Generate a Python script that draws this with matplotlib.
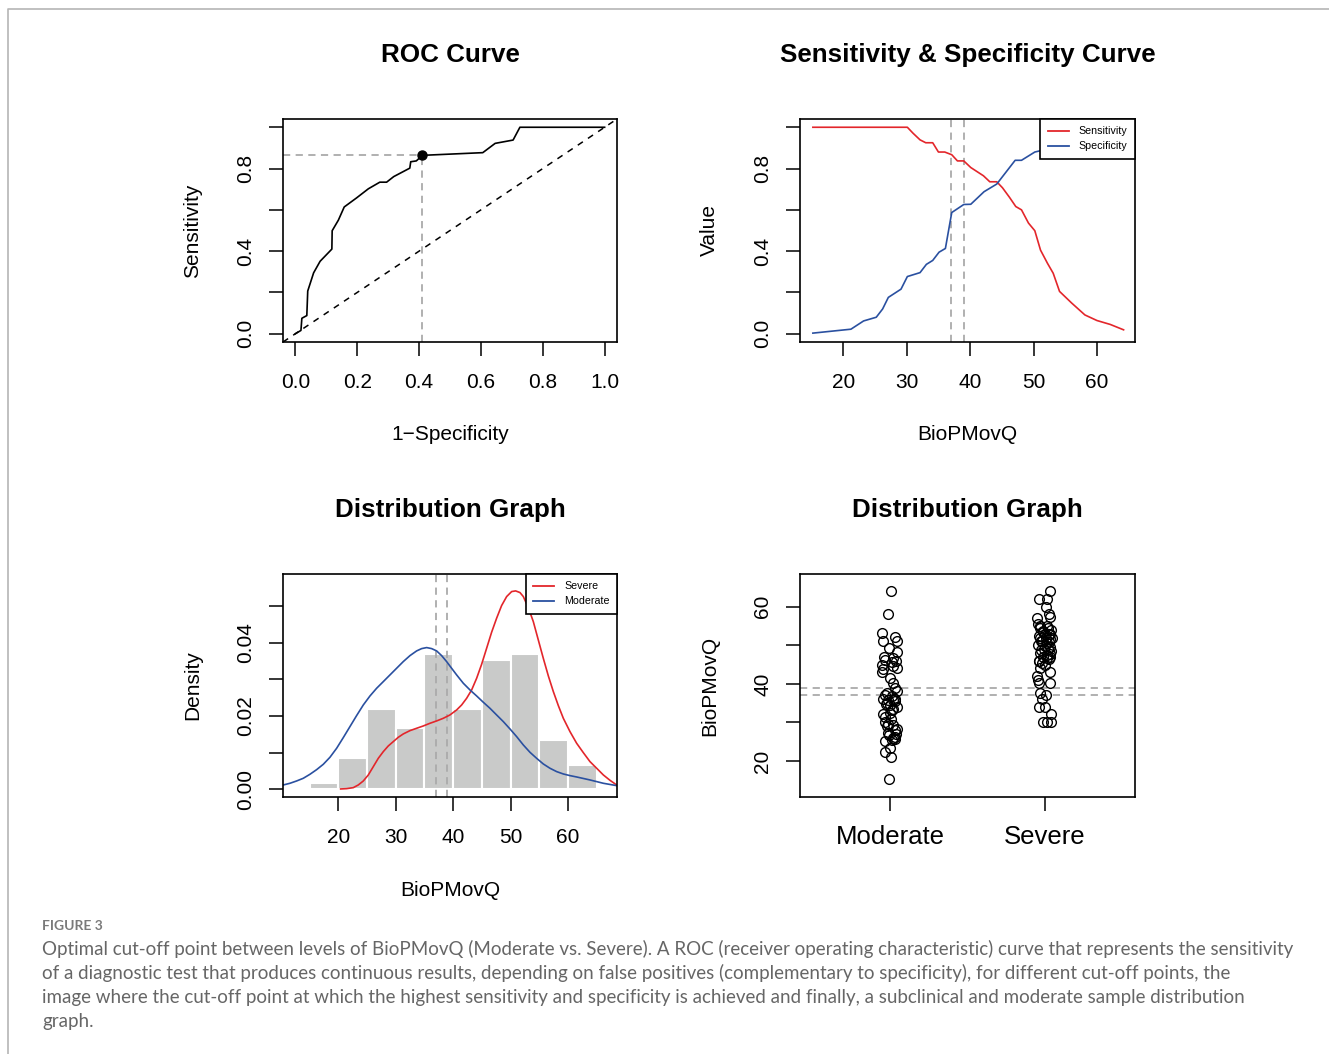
import matplotlib
matplotlib.use('Agg')
import matplotlib.pyplot as plt
import numpy as np
from matplotlib.lines import Line2D

plt.rcParams['font.family'] = ['Liberation Sans', 'DejaVu Sans']

# ---------------- data ----------------
roc_fpr = [0.0, 0.018, 0.021, 0.037, 0.040, 0.059, 0.080, 0.118, 0.119, 0.139, 0.158,
           0.198, 0.236, 0.273, 0.295, 0.318, 0.370, 0.373, 0.391, 0.411, 0.606, 0.646,
           0.704, 0.726, 1.0]
roc_tpr = [0.0, 0.016, 0.075, 0.088, 0.207, 0.295, 0.351, 0.410, 0.499, 0.550, 0.614,
           0.658, 0.702, 0.734, 0.734, 0.761, 0.802, 0.833, 0.837, 0.864, 0.877, 0.922,
           0.938, 1.0, 1.0]
best_fpr, best_tpr = 0.411, 0.864

sens_x = [15.2, 30.1, 31.0, 32.1, 33.0, 34.1, 35.0, 36.0, 37.1, 38.0, 39.0, 40.1, 42.1,
          43.1, 44.2, 45.1, 46.2, 47.2, 48.1, 49.2, 50.2, 51.1, 52.2, 53.1, 54.1, 56.0,
          58.1, 60.0, 62.1, 64.2]
sens_y = [1.0, 1.0, 0.971, 0.939, 0.925, 0.925, 0.880, 0.880, 0.867, 0.837, 0.837, 0.805,
          0.765, 0.736, 0.736, 0.707, 0.661, 0.616, 0.600, 0.536, 0.499, 0.405, 0.341,
          0.293, 0.205, 0.149, 0.091, 0.064, 0.045, 0.019]
spec_x = [15.2, 21.2, 23.2, 25.2, 26.2, 27.1, 29.1, 30.1, 32.1, 33.1, 34.1, 35.1, 36.1,
          37.1, 39.0, 40.1, 42.2, 44.2, 47.1, 48.1, 50.2, 51.3, 54.0, 57.0, 60.0, 64.2]
spec_y = [0.003, 0.022, 0.062, 0.080, 0.120, 0.176, 0.216, 0.277, 0.296, 0.336, 0.355,
          0.395, 0.413, 0.587, 0.626, 0.627, 0.688, 0.725, 0.840, 0.840, 0.880, 0.888,
          0.93, 0.96, 0.98, 1.0]
cutoffs = [37, 39]

hist_left = [15, 20, 25, 30, 35, 40, 45, 50, 55, 60]
hist_counts = [1, 5, 13, 10, 22, 13, 21, 22, 8, 4]
bin_width = 5

mod_dx = [10.42, 11.58, 12.74, 13.90, 15.06, 16.23, 17.39, 18.55, 19.71, 20.87, 22.03,
          23.19, 24.36, 25.52, 26.68, 27.84, 29.00, 30.16, 31.32, 32.49, 33.65, 34.52,
          35.39, 36.26, 37.13, 38.00, 38.87, 39.74, 40.62, 41.78, 42.94, 44.10, 45.26,
          46.42, 47.58, 48.75, 49.91, 51.07, 52.23, 53.39, 54.55, 55.71, 56.88, 58.04,
          59.20, 60.36, 61.52, 63.84, 66.17, 68.49]
mod_dy = [0.00118, 0.00164, 0.00227, 0.0030, 0.00409, 0.00536, 0.00682, 0.00873, 0.01118,
          0.01409, 0.01709, 0.02009, 0.0230, 0.02545, 0.02755, 0.02936, 0.03118, 0.0330,
          0.03482, 0.03645, 0.03773, 0.03836, 0.03864, 0.03836, 0.03773, 0.03645, 0.03482,
          0.0330, 0.03118, 0.02891, 0.02709, 0.02545, 0.02373, 0.02209, 0.02027, 0.01845,
          0.01645, 0.01436, 0.01209, 0.01009, 0.00845, 0.00691, 0.00573, 0.00482, 0.00418,
          0.00373, 0.00336, 0.00255, 0.00164, 0.001]
sev_dx = [20.41, 21.45, 22.61, 23.48, 24.36, 25.23, 26.10, 26.97, 27.84, 28.71, 29.58,
          30.45, 31.32, 32.49, 33.65, 34.81, 35.97, 37.13, 38.29, 39.45, 40.62, 41.49,
          42.36, 43.23, 44.10, 44.97, 45.84, 46.71, 47.58, 48.45, 49.33, 50.20, 50.89,
          51.65, 52.23, 53.10, 53.97, 54.84, 55.71, 56.59, 57.46, 58.33, 59.20, 60.36,
          61.52, 62.68, 63.84, 65.01, 66.17, 67.33, 68.49]
sev_dy = [0.00009, 0.00018, 0.00045, 0.00118, 0.00227, 0.00391, 0.00618, 0.00845, 0.01027,
          0.01182, 0.0130, 0.01418, 0.01509, 0.016, 0.01664, 0.01727, 0.018, 0.01864,
          0.01936, 0.02027, 0.02164, 0.0230, 0.02482, 0.02709, 0.03027, 0.03409, 0.03845,
          0.04282, 0.04664, 0.05009, 0.05255, 0.05391, 0.05409, 0.05364, 0.05255, 0.04955,
          0.04573, 0.04073, 0.03573, 0.03091, 0.02664, 0.02282, 0.01936, 0.01573, 0.01255,
          0.01, 0.00755, 0.00573, 0.00391, 0.00245, 0.00118]

groups = ['Moderate', 'Severe']
mod_vals = [64.0, 58.0, 53.1, 52.2, 51.1, 51.1, 49.2, 48.2, 46.6, 46.1, 45.7, 44.1, 43.8,
            43.1, 41.4, 40.1, 38.1, 37.1, 36.2, 35.8, 35.8, 34.5, 33.6, 32.1, 32.4, 29.5,
            29.3, 28.3, 27.2, 26.3, 25.2, 25.4, 23.5, 22.3, 21.1, 15.3, 36.0, 35.0, 34.0,
            30.0, 27.0, 26.0, 46.0, 45.0,
            37.5, 36.8, 35.5, 34.8, 33.2, 30.8, 29.0, 28.0, 26.8, 25.8, 44.5, 47.0, 39.0,
            31.5]
mod_jit = [0.006, -0.015, -0.054, 0.032, -0.043, 0.043, -0.004, 0.043, 0.021, -0.032,
           0.011, 0.047, -0.043, -0.054, 0.0, 0.021, 0.043, -0.032, -0.043, -0.011, 0.021,
           0.0, 0.021, -0.043, 0.0, -0.011, 0.021, 0.047, -0.011, 0.032, -0.032, 0.011,
           0.0, -0.032, 0.006, -0.004, 0.030, -0.020, 0.045, -0.030, 0.040, 0.020,
           0.040, -0.050,
           -0.020, 0.015, 0.030, -0.025, 0.012, 0.005, -0.020, 0.035, -0.005, 0.030,
           0.020, -0.040, 0.030, -0.035]
sev_vals = [64.0, 62.1, 62.1, 60.0, 58.0, 57.4, 57.1, 55.6, 55.0, 54.5, 54.0, 53.5, 53.0,
            52.5, 52.0, 51.5, 51.0, 50.5, 50.0, 49.5, 49.0, 48.5, 48.0, 47.5, 47.0, 46.5,
            46.0, 45.0, 44.0, 43.0, 42.0, 40.1, 40.1, 37.5, 37.1, 34.1, 34.1, 32.1, 30.1,
            30.1, 30.1, 53.0, 51.0, 49.0, 47.0, 45.5, 55.0, 52.0,
            54.5, 53.8, 52.8, 51.8, 50.8, 49.8, 48.8, 47.8, 46.8, 45.8, 41.0, 36.0]
sev_jit = [0.030, -0.039, 0.013, 0.009, 0.026, 0.034, -0.052, -0.045, 0.010, -0.030,
           0.040, -0.010, 0.025, -0.040, 0.005, 0.035, -0.020, 0.015, -0.045, 0.030,
           -0.005, 0.040, -0.035, 0.010, -0.015, 0.025, -0.040, 0.000, -0.030, 0.030,
           -0.050, -0.039, 0.030, -0.030, 0.009, -0.039, -0.003, 0.041, -0.013, 0.041,
           0.013, 0.000, -0.025, 0.020, 0.035, -0.020, -0.030, 0.045,
           0.020, -0.015, 0.035, -0.035, 0.025, 0.000, -0.025, 0.030, 0.010, -0.040,
           -0.045, -0.020]

# ---------------- style ----------------
RED = '#e3262b'
BLUE = '#2a50a0'
GUIDE = '#aaaaaa'
W, H = 1329, 1054
fig = plt.figure(figsize=(W / 100, H / 100), dpi=100)


def add_ax(x0, y0, x1, y1):
    return fig.add_axes([x0 / W, 1 - y1 / H, (x1 - x0) / W, (y1 - y0) / H])


def style(ax, title, xlabel, ylabel, box_h):
    for s in ax.spines.values():
        s.set_linewidth(1.2)
    ax.tick_params(direction='out', length=10, width=1.1, labelsize=15, pad=12)
    ax.tick_params(axis='y', labelrotation=90, pad=10)
    for lab in ax.get_yticklabels():
        lab.set_va('center')
    ax.text(0.5, 1 + 64 / box_h, title, transform=ax.transAxes, ha='center',
            va='center', fontsize=18.7, fontweight='bold')
    if xlabel:
        ax.text(0.5, -93 / box_h, xlabel, transform=ax.transAxes, ha='center',
                va='center', fontsize=15)
    ax.text(-90 / 334, 0.5, ylabel, transform=ax.transAxes, ha='center',
            va='center', fontsize=15, rotation=90)


def legend(ax, labels):
    lg = ax.legend(handles=[Line2D([], [], color=RED, lw=1.3, label=labels[0]),
                            Line2D([], [], color=BLUE, lw=1.3, label=labels[1])],
                   loc='upper right', borderaxespad=0, fontsize=7.7, fancybox=False,
                   edgecolor='black', framealpha=1, handlelength=2.0, borderpad=0.7,
                   labelspacing=0.45, handletextpad=0.9)
    lg.get_frame().set_linewidth(1.2)


guide_kw = dict(color=GUIDE, lw=1.3, dashes=(4, 3))

# ROC
ax1 = add_ax(283, 119, 617, 342)
ax1.set_xlim(-0.04, 1.04)
ax1.set_ylim(-0.04, 1.04)
ax1.axline((0, 0), (1, 1), color='black', lw=1.1, dashes=(4, 4))
ax1.plot([-0.04, best_fpr], [best_tpr, best_tpr], **guide_kw)
ax1.plot([best_fpr, best_fpr], [-0.04, best_tpr], **guide_kw)
ax1.plot(roc_fpr, roc_tpr, color='black', lw=1.2)
ax1.plot([best_fpr], [best_tpr], 'o', color='black', ms=6.5)
ax1.set_xticks([0, 0.2, 0.4, 0.6, 0.8, 1.0])
ax1.set_xticklabels(['0.0', '0.2', '0.4', '0.6', '0.8', '1.0'])
ax1.set_yticks([0, 0.2, 0.4, 0.6, 0.8, 1.0])
ax1.set_yticklabels(['0.0', '', '0.4', '', '0.8', ''])
style(ax1, 'ROC Curve', '1\u2212Specificity', 'Sensitivity', 223)

# Sensitivity & specificity
ax2 = add_ax(800, 119, 1135, 342)
ax2.set_xlim(13.17, 66.0)
ax2.set_ylim(-0.04, 1.04)
for c in cutoffs:
    ax2.axvline(c, **guide_kw)
ax2.plot(sens_x, sens_y, color=RED, lw=1.2)
ax2.plot(spec_x, spec_y, color=BLUE, lw=1.2)
ax2.set_xticks([20, 30, 40, 50, 60])
ax2.set_yticks([0, 0.2, 0.4, 0.6, 0.8, 1.0])
ax2.set_yticklabels(['0.0', '', '0.4', '', '0.8', ''])
style(ax2, 'Sensitivity & Specificity Curve', 'BioPMovQ', 'Value', 223)
legend(ax2, ['Sensitivity', 'Specificity'])

# Histogram + densities
ax3 = add_ax(283, 574, 617, 797)
ax3.set_xlim(10.37, 68.55)
ax3.set_ylim(-0.0021, 0.0587)
n_total = sum(hist_counts)
dens = [c / (n_total * bin_width) for c in hist_counts]
ax3.bar(hist_left, dens, width=bin_width, align='edge', color='#c9cac9',
        edgecolor='white', lw=1.5)
for c in cutoffs:
    ax3.axvline(c, **guide_kw)
ax3.plot(sev_dx, sev_dy, color=RED, lw=1.2)
ax3.plot(mod_dx, mod_dy, color=BLUE, lw=1.2)
ax3.set_xticks([20, 30, 40, 50, 60])
ax3.set_yticks([0, 0.01, 0.02, 0.03, 0.04, 0.05])
ax3.set_yticklabels(['0.00', '', '0.02', '', '0.04', ''])
style(ax3, 'Distribution Graph', 'BioPMovQ', 'Density', 223)
legend(ax3, ['Severe', 'Moderate'])

# Strip chart
ax4 = add_ax(800, 574, 1135, 797)
ax4.set_xlim(0.42, 2.58)
ax4.set_ylim(10.67, 68.47)
for c in cutoffs:
    ax4.axhline(c, **guide_kw)
ax4.plot(1 + np.array(mod_jit), mod_vals, 'o', mfc='none', mec='black', ms=7, mew=1.0)
ax4.plot(2 + np.array(sev_jit), sev_vals, 'o', mfc='none', mec='black', ms=7, mew=1.0)
ax4.set_xticks([1, 2])
ax4.set_xticklabels(groups)
ax4.set_yticks([20, 30, 40, 50, 60])
ax4.set_yticklabels(['20', '', '40', '', '60'])
style(ax4, 'Distribution Graph', None, 'BioPMovQ', 223)
ax4.tick_params(axis='x', labelsize=18.5, pad=10)

# Caption
fig.text(42 / W, 1 - 926 / H, 'FIGURE 3', fontsize=10, color='#7a7a7a',
         va='center', family=['Lato', 'DejaVu Sans'], fontweight='bold')
caption = [
    'Optimal cut-off point between levels of BioPMovQ (Moderate vs. Severe). A ROC (receiver operating characteristic) curve that represents the sensitivity',
    'of a diagnostic test that produces continuous results, depending on false positives (complementary to specificity), for different cut-off points, the',
    'image where the cut-off point at which the highest sensitivity and specificity is achieved and finally, a subclinical and moderate sample distribution',
    'graph.',
]
for i, line in enumerate(caption):
    fig.text(42 / W, 1 - (949 + 24 * i) / H, line, fontsize=13.5, color='#666666',
             va='center', family=['Lato', 'DejaVu Sans'])

fig.add_artist(Line2D([8 / W, 8 / W, 1], [0, 1 - 9 / H, 1 - 9 / H],
                      transform=fig.transFigure, color='#b5b5b5', lw=1.2))

fig.savefig('out.png', dpi=100)
